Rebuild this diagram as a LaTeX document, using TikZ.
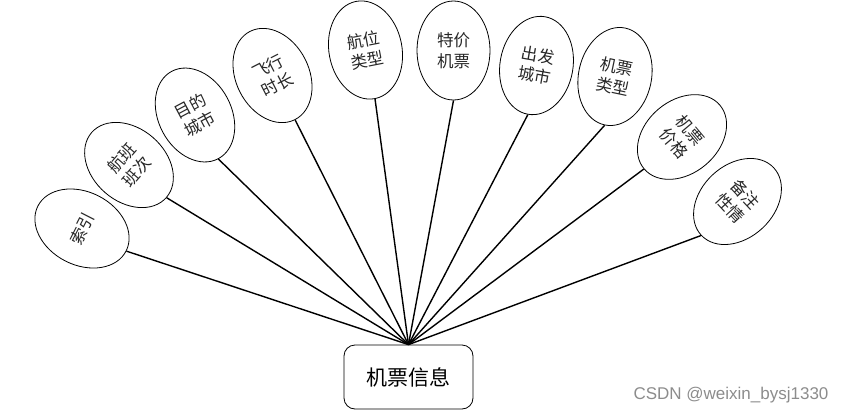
\documentclass[tikz,border=0pt]{standalone}
\usepackage{fontspec}
\setmainfont{Noto Sans CJK SC}
\newfontfamily\wmfont{Liberation Sans}
\usetikzlibrary{shapes.geometric}
\tikzset{
  attr/.style={ellipse, draw=black, line width=0.8pt, minimum width=73pt, minimum height=99pt,
    inner sep=0pt, align=center, font=\fontsize{16.5}{20.5}\selectfont, text=black!85},
  hubbox/.style={rectangle, rounded corners=11pt, draw=black, line width=0.8pt,
    minimum width=129pt, minimum height=64pt, font=\fontsize{21}{24}\selectfont},
  link/.style={line width=1.4pt, black},
}
\begin{document}
\begin{tikzpicture}[x=1pt,y=1pt]
\useasboundingbox (0,0) rectangle (847,-415);
\node[hubbox] (hub) at (408.5,-377) {机票信息};
\node[attr, rotate=63] (a1) at (82,-228.5) {索引};
\node[attr, rotate=49] (a2) at (129,-165) {航班\\班次};
\node[attr, rotate=28] (a3) at (195,-115) {目的\\城市};
\node[attr, rotate=27] (a4) at (272.5,-75.5) {飞行\\时长};
\node[attr, rotate=11] (a5) at (365.5,-50) {航位\\类型};
\node[attr] (a6) at (453.5,-50.5) {特价\\机票};
\node[attr, rotate=-10] (a7) at (536.5,-65.5) {出发\\城市};
\node[attr, rotate=-12] (a8) at (615,-76.5) {机票\\类型};
\node[attr, rotate=-50] (a9) at (682,-137) {机票\\价格};
\node[attr, rotate=-47] (a10) at (737.5,-201.5) {备注\\性情};
\foreach \n in {a1,a2,a3,a4,a5,a6,a7,a8,a9,a10}
  \draw[link] (\n.south) -- (hub.north);
\node[font=\wmfont\fontsize{17}{20}\selectfont, text=black!45, anchor=east] (wm) at (832,-395) {CSDN @weixin\_bysj1330};
\end{tikzpicture}
\end{document}
